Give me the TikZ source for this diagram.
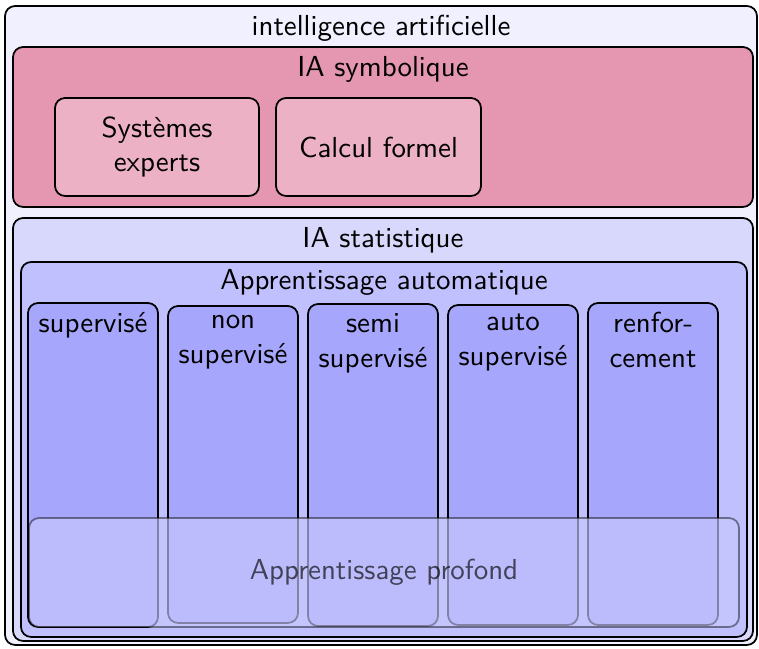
\documentclass[tikz,border=0pt]{standalone}
\usetikzlibrary{fit}
\definecolor{iafond}{HTML}{F0F0FE}
\definecolor{symbfond}{HTML}{E596B0}
\definecolor{symbboite}{HTML}{ECB1C5}
\definecolor{statfond}{HTML}{D8D8FD}
\definecolor{autofond}{HTML}{C0C0FE}
\definecolor{colfond}{HTML}{A6A6FC}
\definecolor{proffond}{HTML}{C8C8FF}
\tikzset{
    cadre/.style={draw, semithick, rounded corners=3.5pt, inner sep=0pt},
    titre/.style={anchor=north, font=\sffamily, align=center},
    texte/.style={font=\sffamily, align=center},
}
\begin{document}
\begin{tikzpicture}[x=0.3455pt, y=-0.3455pt]
    \useasboundingbox (0,0) rectangle (759,649);
    \node[cadre, fill=iafond, fit={(5,6) (757,645)}] (ia) {};
    \node[titre] (iat) at (ia.north) {intelligence artificielle};
    % IA symbolique
    \node[cadre, fill=symbfond, fit={(13,47) (753,207)}] (symb) {};
    \node[titre] (symbt) at (symb.north) {IA symbolique};
    \node[cadre, fill=symbboite, fit={(55,98) (259,196)}] (exp) {};
    \node[texte] (expt) at (exp.center) {Systèmes\\experts};
    \node[cadre, fill=symbboite, fit={(276,98) (481,196)}] (calc) {};
    \node[texte] (calct) at (calc.center) {Calcul formel};
    % IA statistique
    \node[cadre, fill=statfond, fit={(13,218) (753,641)}] (stat) {};
    \node[titre] (statt) at (stat.north) {IA statistique};
    \node[cadre, fill=autofond, fit={(21,262) (747,637)}] (auto) {};
    \node[titre, inner sep=2.5pt] (autot) at (auto.north) {Apprentissage automatique};
    \node[cadre, fill=colfond, fit={(28,303) (158,627)}] (sup) {};
    \node[titre] (supt) at (sup.north) {supervisé};
    \node[cadre, fill=colfond, fit={(168,306) (298,623)}] (nonsup) {};
    \node[titre] (nonsupt) at (nonsup.north) {non\\supervisé};
    \node[cadre, fill=colfond, fit={(308,304) (438,626)}] (semisup) {};
    \node[titre] (semisupt) at (semisup.north) {semi\\supervisé};
    \node[cadre, fill=colfond, fit={(448,305) (578,625)}] (autosup) {};
    \node[titre] (autosupt) at (autosup.north) {auto\\supervisé};
    \node[cadre, fill=colfond, fit={(588,303) (718,625)}] (renf) {};
    \node[titre] (renft) at (renf.north) {renfor-\\cement};
    % apprentissage profond
    \node[cadre, fill=proffond, fill opacity=0.65, draw opacity=0.45, fit={(29,518) (739,627)}] (prof) {};
    \node[texte, opacity=0.65] (proft) at (prof.center) {Apprentissage profond};
\end{tikzpicture}
\end{document}
